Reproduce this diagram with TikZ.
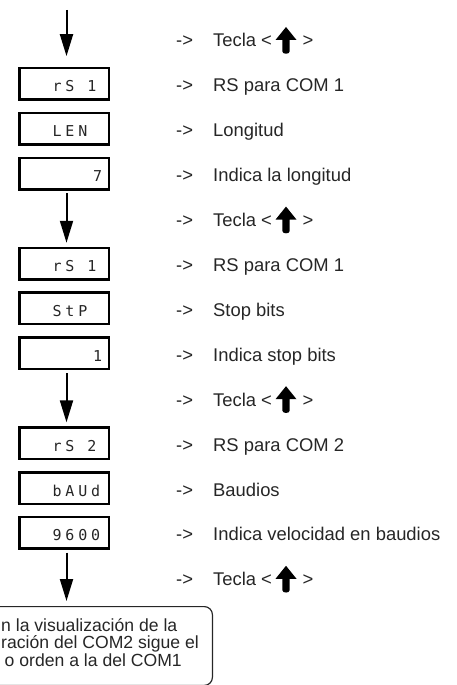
\documentclass[tikz,border=0pt]{standalone}
\usepackage{fontspec}
\setmainfont{Liberation Sans}
\newfontfamily\dispfont[LetterSpace=25]{DejaVu Sans Mono}
\usetikzlibrary{arrows.meta}
\newcommand{\upkey}{\tikz[x=1pt,y=1pt,baseline=0pt]\fill[black] (0,20) -- (10.5,7) -- (3.6,7) -- (3.6,-4.5) .. controls (3.6,-7.5) and (-3.6,-7.5) .. (-3.6,-4.5) -- (-3.6,7) -- (-10.5,7) -- cycle;}
\tikzset{
  disp/.style={draw=black, line width=2.5pt, minimum width=89.5pt, minimum height=31.5pt, inner sep=0pt, outer sep=0pt},
  dtext/.style={anchor=base west, inner sep=0pt, font=\dispfont\fontsize{15}{15}\selectfont, text=black!85},
  lab/.style={anchor=base west, inner sep=0pt, font=\fontsize{18.4}{22}\selectfont, text=black!85},
  arr/.style={line width=2pt, -{Triangle[width=13pt,length=22pt]}},
  note/.style={draw=black!85, line width=1.2pt, rounded corners=8pt, minimum width=231.8pt, minimum height=78.8pt, inner sep=0pt},
  ntext/.style={inner sep=0pt, font=\fontsize{17.6}{18}\selectfont, text=black!85}
}
\begin{document}
\begin{tikzpicture}[x=1pt,y=-1pt]
\useasboundingbox (0,0) rectangle (457,685);
\clip (0,0) rectangle (457,685);
% display boxes
\node[disp] (b1) at (64,83.9) {};
\node[disp] (b2) at (64,128.8) {};
\node[disp] (b3) at (64,173.7) {};
\node[disp] (b5) at (64,263.5) {};
\node[disp] (b6) at (64,308.4) {};
\node[disp] (b7) at (64,353.3) {};
\node[disp] (b9) at (64,443.1) {};
\node[disp] (b10) at (64,488) {};
\node[disp] (b11) at (64,532.9) {};
% display texts
\node[dtext] (d1) at (52.5,91.9) {rS 1};
\node[dtext] (d2) at (52.5,136.8) {LEN};
\node[dtext] (d3) at (93,181.7) {7};
\node[dtext] (d5) at (52.5,271.5) {rS 1};
\node[dtext] (d6) at (52.5,316.4) {StP};
\node[dtext] (d7) at (93,361.3) {1};
\node[dtext] (d9) at (52.5,451.1) {rS 2};
\node[dtext] (d10) at (52.5,496) {bAUd};
\node[dtext] (d11) at (52.5,540.9) {9600};
% note box
\node[note] (note) at (96.5,646) {};
\node[ntext, anchor=base west] (n1) at (1,631) {n la visualización de la};
\node[ntext, anchor=base west] (n2) at (1,648.5) {ración del COM2 sigue el};
\node[ntext, anchor=base east] (n3) at (182,666) {o orden a la del COM1};
% arrows
\coordinate (start) at (66.5,10);
\draw[arr, shorten >=12pt] (start) -- (start |- b1.north);
\draw[arr, shorten <=4pt, shorten >=5pt] ([xshift=2.5pt]b3.south) -- ([xshift=2.5pt]b5.north);
\draw[arr, shorten <=4pt, shorten >=5pt] ([xshift=2.5pt]b7.south) -- ([xshift=2.5pt]b9.north);
\draw[arr, shorten <=4pt, shorten >=5pt] ([xshift=2.5pt]b11.south) -- ([xshift=2.5pt]b11.south |- note.north);
% labels
\node[lab] (a0) at (176,47) {->};
\node[lab] (t0) at (213,47) {Tecla <\hspace{3.5pt}\upkey\hspace{6pt}>};
\node[lab] (a1) at (176,91.9) {->};
\node[lab] (t1) at (213,91.9) {RS para COM 1};
\node[lab] (a2) at (176,136.8) {->};
\node[lab] (t2) at (213,136.8) {Longitud};
\node[lab] (a3) at (176,181.7) {->};
\node[lab] (t3) at (213,181.7) {Indica la longitud};
\node[lab] (a4) at (176,226.6) {->};
\node[lab] (t4) at (213,226.6) {Tecla <\hspace{3.5pt}\upkey\hspace{6pt}>};
\node[lab] (a5) at (176,271.5) {->};
\node[lab] (t5) at (213,271.5) {RS para COM 1};
\node[lab] (a6) at (176,316.4) {->};
\node[lab] (t6) at (213,316.4) {Stop bits};
\node[lab] (a7) at (176,361.3) {->};
\node[lab] (t7) at (213,361.3) {Indica stop bits};
\node[lab] (a8) at (176,406.2) {->};
\node[lab] (t8) at (213,406.2) {Tecla <\hspace{3.5pt}\upkey\hspace{6pt}>};
\node[lab] (a9) at (176,451.1) {->};
\node[lab] (t9) at (213,451.1) {RS para COM 2};
\node[lab] (a10) at (176,496) {->};
\node[lab] (t10) at (213,496) {Baudios};
\node[lab] (a11) at (176,540.9) {->};
\node[lab] (t11) at (213,540.9) {Indica velocidad en baudios};
\node[lab] (a12) at (176,585.8) {->};
\node[lab] (t12) at (213,585.8) {Tecla <\hspace{3.5pt}\upkey\hspace{6pt}>};
\end{tikzpicture}
\end{document}
